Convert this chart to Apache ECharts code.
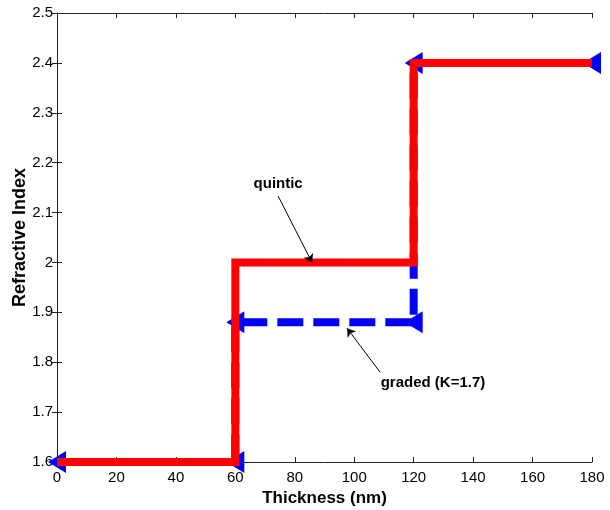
<!DOCTYPE html>
<html>
<head>
<meta charset="utf-8">
<script src="https://cdn.jsdelivr.net/npm/echarts@6/dist/echarts.min.js"></script>
<style>
  html, body { margin: 0; padding: 0; background: #fff; }
  #chart { width: 610px; height: 510px; }
</style>
</head>
<body>
<div id="chart"></div>
<script>
// 厚度与折射率数据
var thickness = [0, 60, 60, 120, 120, 180];
var quinticN = [1.6, 1.6, 2.0, 2.0, 2.4, 2.4];
var gradedN = [1.6, 1.6, 1.88, 1.88, 2.4, 2.4];
var xTicks = [0, 20, 40, 60, 80, 100, 120, 140, 160, 180];
var yTicks = [1.6, 1.7, 1.8, 1.9, 2, 2.1, 2.2, 2.3, 2.4, 2.5];

function pairs(xs, ys) {
    var out = [];
    for (var i = 0; i < xs.length; i++) out.push([xs[i], ys[i]]);
    return out;
}

var font = 'Liberation Sans, Arial, sans-serif';
var myChart = echarts.init(document.getElementById('chart'));

var tickStyle = { show: true, inside: true, length: 5, lineStyle: { color: '#222', width: 1 } };
var lineColor = { lineStyle: { color: '#222', width: 1 } };

var option = {
    animation: false,
    backgroundColor: '#fff',
    grid: { left: 57, right: 18, top: 13, bottom: 48, containLabel: false, outerBoundsMode: 'none' },
    xAxis: [{
        type: 'value', min: 0, max: 180, interval: 20,
        name: 'Thickness (nm)', nameLocation: 'middle', nameGap: 27,
        nameTextStyle: { fontFamily: font, fontWeight: 'bold', fontSize: 17, color: '#000' },
        axisLine: lineColor, axisTick: tickStyle, splitLine: { show: false },
        axisLabel: { fontFamily: font, fontSize: 15, color: '#000', margin: 8 }
    }, {
        type: 'value', min: 0, max: 180, interval: 20, position: 'top',
        axisLine: lineColor, axisTick: tickStyle, axisLabel: { show: false }, splitLine: { show: false }
    }],
    yAxis: [{
        type: 'value', min: 1.6, max: 2.5, interval: 0.1,
        name: 'Refractive Index', nameLocation: 'middle', nameGap: 28, nameMoveOverlap: false,
        nameTextStyle: { fontFamily: font, fontWeight: 'bold', fontSize: 18, color: '#000' },
        axisLine: lineColor, axisTick: tickStyle, splitLine: { show: false },
        axisLabel: {
            fontFamily: font, fontSize: 15, color: '#000', margin: 4,
            formatter: function (v) { return String(Math.round(v * 10) / 10); }
        }
    }, {
        type: 'value', min: 1.6, max: 2.5, interval: 0.1, position: 'right',
        axisLine: lineColor, axisTick: tickStyle, axisLabel: { show: false }, splitLine: { show: false }
    }],
    series: [{
        name: 'graded (K=1.7)',
        type: 'line',
        data: pairs(thickness, gradedN),
        clip: false,
        symbol: 'triangle',
        symbolSize: [22, 18],
        symbolRotate: 90,
        itemStyle: { color: '#0000ff', borderWidth: 0 },
        lineStyle: { color: '#0000ff', width: 8, type: [26, 10] },
        z: 2
    }, {
        name: 'quintic',
        type: 'line',
        data: pairs(thickness, quinticN),
        clip: false,
        showSymbol: false,
        symbol: 'none',
        lineStyle: { color: '#ff0000', width: 8, join: 'miter' },
        z: 3,
        markLine: {
            silent: true,
            symbol: ['none', 'arrow'],
            symbolSize: 8,
            label: { show: false },
            lineStyle: { color: '#000', width: 1, type: 'solid' },
            data: [
                [{ coord: [74.4, 2.133] }, { coord: [85.8, 2.0] }],
                [{ coord: [108.7, 1.78] }, { coord: [97.6, 1.868] }]
            ]
        },
        markPoint: {
            silent: true,
            symbol: 'circle',
            symbolSize: 0,
            label: {
                show: true, position: 'inside', fontFamily: font, fontWeight: 'bold',
                fontSize: 15, color: '#000'
            },
            data: [
                { coord: [74.4, 2.157], value: 'quintic', label: { formatter: 'quintic' } },
                { coord: [126.5, 1.758], value: 'graded', label: { formatter: 'graded (K=1.7)' } }
            ]
        }
    }]
};

myChart.setOption(option);
</script>
</body>
</html>
